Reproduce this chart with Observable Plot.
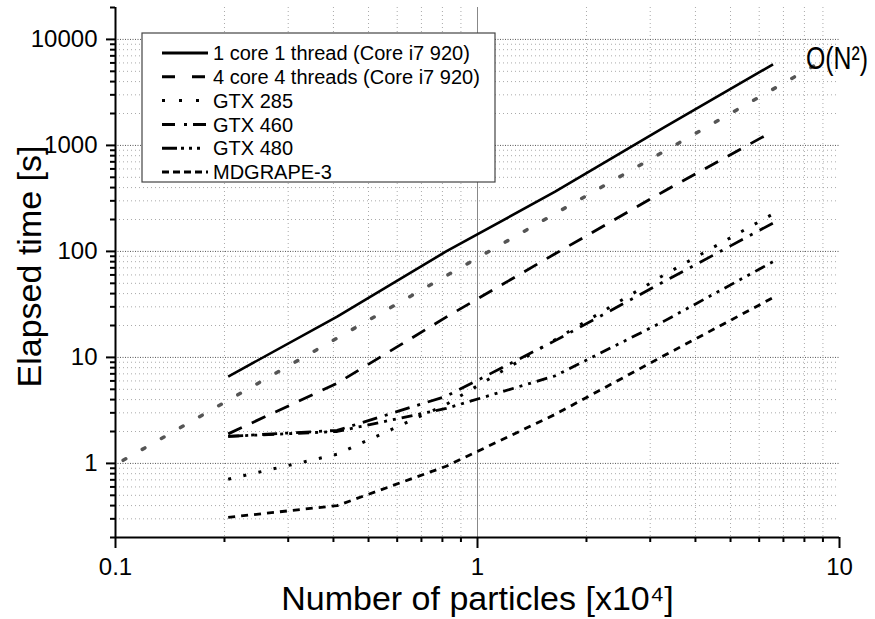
<!DOCTYPE html>
<html><head><meta charset="utf-8">
<script src="https://cdn.jsdelivr.net/npm/d3@7"></script>
<script src="https://cdn.jsdelivr.net/npm/@observablehq/plot@0.6"></script>
<style>body{margin:0;background:#fff;overflow:hidden}</style>
</head><body><div id="chart"></div>
<script>
// ---- data ----
const N = [0.2048, 0.4096, 0.8192, 1.6384, 3.2768, 6.5536];   // particles [x10^4]
const seriesNames = ["1 core 1 thread (Core i7 920)", "4 core 4 threads (Core i7 920)", "GTX 285", "GTX 460", "GTX 480", "MDGRAPE-3"];
const core1 = [6.6, 24.2, 100, 366, 1476, 5820];
const core4 = [1.9, 5.7, 24, 95, 370, 1360];
const gtx285 = [0.71, 1.22, 3.6, 14.7, 60, 226];
const gtx460 = [1.8, 2.05, 4.3, 14.4, 52, 185];
const gtx480 = [1.8, 2.0, 3.3, 6.7, 22, 80];
const mdgrape3 = [0.31, 0.40, 0.94, 2.9, 10.4, 36.6];
const refN = [0.105, 9.0];          // O(N^2) guide line
const refTime = [1.07, 6300];
const refLabel = "O(N²)";
const xTicks = [0.1, 1, 10];
const yTicks = [1, 10, 100, 1000, 10000];
const xTitle = "Number of particles [x10⁴]";
const yTitle = "Elapsed time [s]";

// ---- styles ----
const dashes = ["none", "15,11", "3,12.5", "15,8,3,8", "11,6,3,6,3,6", "7,6"];
const widths = [2.6, 2.8, 3, 2.8, 2.8, 2.8];
const legendDashes = ["none", "13,17", "3,14", "13,9,3,6", "15,4,3,5,3,5,3,20", "7,4"];
const NARROW = '"Liberation Sans Narrow", "Liberation Sans", Arial, sans-serif';
const REG = '"Liberation Sans", Arial, sans-serif';

const values = [core1, core4, gtx285, gtx460, gtx480, mdgrape3];
const table = values.map((arr, s) => arr.map((t, i) => ({series: seriesNames[s], n: N[i], t})));
const refData = refN.map((n, i) => ({n, t: refTime[i]}));

const xDom = [0.1, 10], yDom = [0.2, 20000];
const mult = [2,3,4,5,6,7,8,9];
const minorY = [-1,0,1,2,3,4].flatMap(k => mult.map(m => m * 10 ** k)).filter(v => v >= yDom[0] * 0.999 && v <= yDom[1] * 1.001);
const minorX = [-1,0].flatMap(k => mult.map(m => m * 10 ** k));

const marks = [
  Plot.ruleY(minorY.filter(v => v > yDom[0] * 1.01 && v < yDom[1] * 0.99), {stroke: "#aaa", strokeWidth: 1, strokeDasharray: "1,3"}),
  Plot.ruleX(minorX, {stroke: "#aaa", strokeWidth: 1, strokeDasharray: "1,3"}),
  Plot.ruleY(yTicks, {stroke: "#555", strokeWidth: 1, strokeDasharray: "1,1.5"}),
  Plot.ruleX([1], {stroke: "#888", strokeWidth: 1}),
  Plot.line(refData, {x: "n", y: "t", stroke: "#555", strokeWidth: 3.5, strokeDasharray: "3,19"}),
];
table.forEach((rows, s) => {
  marks.push(Plot.line(rows, {x: "n", y: "t", stroke: "black", strokeWidth: widths[s], strokeDasharray: dashes[s], strokeLinecap: "butt"}));
});
marks.push(
  Plot.text([refData[refData.length - 1]], {x: "n", y: "t", text: () => refLabel, textAnchor: "start", lineAnchor: "middle", dx: -17, dy: -2, fontSize: 32, fontFamily: NARROW, fill: "black", ariaDescription: "reflabel"}),
  Plot.ruleX([xDom[0]], {stroke: "black", strokeWidth: 2}),
  Plot.ruleY([yDom[0]], {stroke: "black", strokeWidth: 2}),
  Plot.axisY({ticks: yTicks, tickSize: 9, tickPadding: 9, fontSize: 24, fontFamily: NARROW, strokeWidth: 2, tickFormat: d => String(d), label: null}),
  Plot.axisY({ticks: minorY, tickSize: 5, strokeWidth: 2, tickFormat: () => "", label: null}),
  Plot.axisX({ticks: xTicks, tickSize: 11, tickPadding: 9, fontSize: 24, fontFamily: NARROW, strokeWidth: 2, tickFormat: d => String(d), label: null}),
  Plot.axisX({ticks: minorX, tickSize: 5, strokeWidth: 2, tickFormat: () => "", label: null}),
  Plot.text([xTitle], {frameAnchor: "bottom", textAnchor: "middle", lineAnchor: "middle", dy: 62, fontSize: 34, fontFamily: REG, fill: "black"}),
  Plot.text([yTitle], {frameAnchor: "left", textAnchor: "middle", lineAnchor: "middle", rotate: -90, dx: -85, dy: -6, fontSize: 34, fontFamily: REG, fill: "black"})
);

const chart = Plot.plot({
  width: 875, height: 619,
  marginLeft: 115, marginRight: 36, marginTop: 7, marginBottom: 82,
  style: {background: "white", color: "black", fontFamily: NARROW, overflow: "visible"},
  x: {type: "log", domain: xDom},
  y: {type: "log", domain: yDom},
  marks
});

// fit the condensed O(N^2) label to the reference width
d3.select(chart).selectAll('g[aria-description="reflabel"] text').attr("textLength", 62).attr("lengthAdjust", "spacingAndGlyphs");

// legend box drawn inside the plot frame
const svg = d3.select(chart);
const lg = svg.append("g").attr("class", "legend").attr("text-anchor", "start");
lg.append("rect").attr("x", 142).attr("y", 33).attr("width", 353).attr("height", 149)
  .attr("fill", "white").attr("stroke", "#444").attr("stroke-width", 1.2);
seriesNames.forEach((name, i) => {
  const cy = 53 + i * 23.8;
  lg.append("line").attr("x1", 162).attr("x2", 208).attr("y1", cy).attr("y2", cy)
    .attr("stroke", "black").attr("stroke-width", 3)
    .attr("stroke-dasharray", legendDashes[i] === "none" ? null : legendDashes[i]);
  lg.append("text").attr("x", 213).attr("y", cy).attr("dy", "0.36em").attr("text-anchor", "start")
    .attr("font-size", 20).attr("font-family", REG).attr("fill", "black").text(name);
});

document.getElementById("chart").appendChild(chart);
</script>
</body></html>
